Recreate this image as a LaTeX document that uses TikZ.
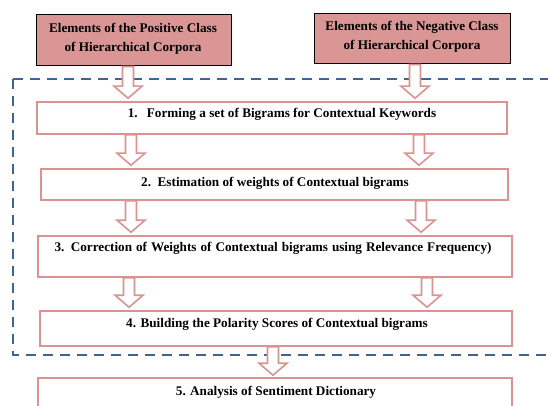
\documentclass[tikz,border=0pt]{standalone}
\usepackage{fontspec}
\setmainfont{Liberation Serif}
\usetikzlibrary{calc}
\definecolor{pinkfill}{HTML}{DA9694}
\definecolor{pinkline}{HTML}{D99391}
\definecolor{dashblue}{HTML}{3E6497}
\tikzset{
  topbox/.style={draw=black, line width=1pt, fill=pinkfill, inner sep=0pt},
  stepbox/.style={draw=pinkline, line width=1.6pt, fill=white, inner sep=0pt},
  lbl/.style={font=\bfseries\fontsize{13.2}{19}\selectfont, align=center, inner sep=0pt, text=black},
  blockarr/.style={draw=pinkline, line width=1.6pt, fill=white, line join=miter},
  frame/.style={draw=dashblue, line width=2pt, dash pattern=on 10pt off 7pt}
}
\newcommand{\blockarrow}[2]{%
  \draw[blockarr] ($(#1)+(-5.5,0)$) -- ($(#2)+(-5.5,-12)$) -- ($(#2)+(-14,-12)$) -- (#2)
    -- ($(#2)+(14,-12)$) -- ($(#2)+(5.5,-12)$) -- ($(#1)+(5.5,0)$) -- cycle;}
\begin{document}
\begin{tikzpicture}[x=1pt,y=-1pt]
\useasboundingbox (0,0) rectangle (548,406);
% dashed frame
\draw[frame] (13,79) -- (560,79);
\draw[frame] (13,79) -- (13,355) -- (560,355);
% top boxes
\node[topbox, minimum width=195, minimum height=51] (P) at (133.5,40.5) {};
\node[lbl] at (133,39) {Elements of the Positive Class\\of Hierarchical  Corpora};
\node[topbox, minimum width=196, minimum height=50] (N) at (412,39) {};
\node[lbl] at (412,37) {Elements of the Negative Class\\of Hierarchical  Corpora};
% steps
\node[stepbox, minimum width=470, minimum height=32] (s1) at (272,118) {};
\node[lbl] at (282,114) {1.\hspace{0.7em}Forming a set of Bigrams for Contextual Keywords};
\node[stepbox, minimum width=467, minimum height=31] (s2) at (274.5,184.5) {};
\node[lbl] at (275,183) {2.\ \ Estimation of weights of Contextual bigrams};
\node[stepbox, minimum width=474, minimum height=41] (s3) at (275,256.5) {};
\node[lbl] at (273,248) {\makebox[437pt][s]{3. Correction of Weights of Contextual bigrams using Relevance Frequency)}};
\node[stepbox, minimum width=472, minimum height=35] (s4) at (276,328.5) {};
\node[lbl] at (277,324) {4. Building the Polarity Scores of Contextual bigrams};
\node[stepbox, minimum width=474, minimum height=40] (s5) at (275,398) {};
\node[lbl] at (276,392) {5. Analysis of Sentiment Dictionary};
% arrows
\coordinate (a1) at (P.south -| 128,0);  \coordinate (b1) at ($(s1.north -| 128,0)+(0,-3)$);
\coordinate (a2) at (N.south -| 415,0);  \coordinate (b2) at ($(s1.north -| 415,0)+(0,-3)$);
\coordinate (a3) at (s1.south -| 131,0); \coordinate (b3) at ($(s2.north -| 131,0)+(0,-3)$);
\coordinate (a4) at (s1.south -| 419,0); \coordinate (b4) at ($(s2.north -| 419,0)+(0,-3)$);
\coordinate (a5) at (s2.south -| 131,0); \coordinate (b5) at ($(s3.north -| 131,0)+(0,-3)$);
\coordinate (a6) at (s2.south -| 421,0); \coordinate (b6) at ($(s3.north -| 421,0)+(0,-3)$);
\coordinate (a7) at (s3.south -| 129,0); \coordinate (b7) at ($(s4.north -| 129,0)+(0,-3)$);
\coordinate (a8) at (s3.south -| 427,0); \coordinate (b8) at ($(s4.north -| 427,0)+(0,-3)$);
\coordinate (a9) at (s4.south -| 273,0); \coordinate (b9) at ($(s5.north -| 273,0)+(0,-2)$);
\blockarrow{a1}{b1}
\blockarrow{a2}{b2}
\blockarrow{a3}{b3}
\blockarrow{a4}{b4}
\blockarrow{a5}{b5}
\blockarrow{a6}{b6}
\blockarrow{a7}{b7}
\blockarrow{a8}{b8}
\blockarrow{a9}{b9}
\end{tikzpicture}
\end{document}
